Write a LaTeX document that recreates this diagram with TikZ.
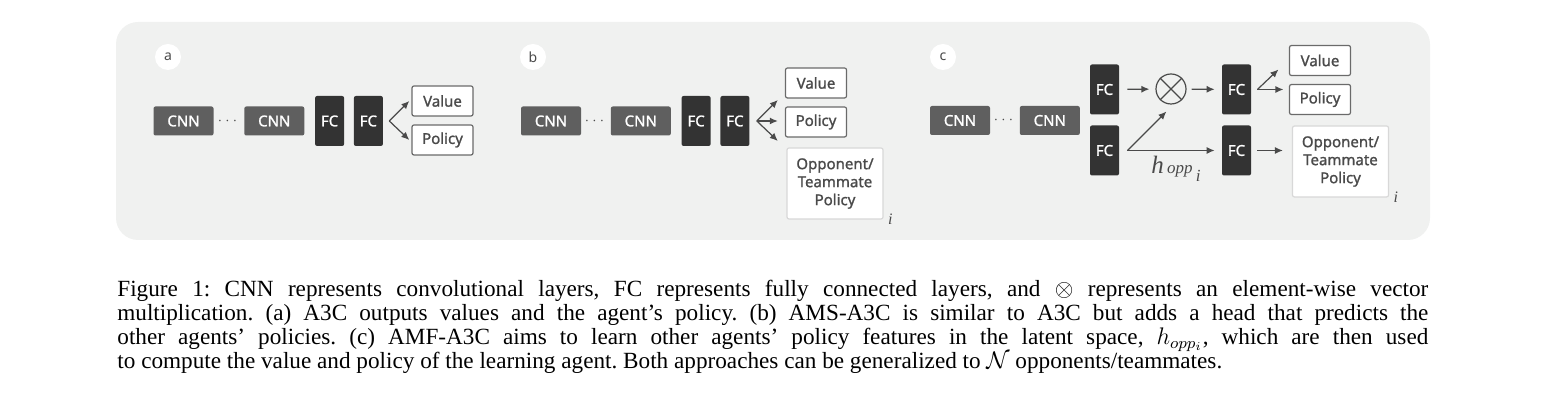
\documentclass[tikz,border=0pt]{standalone}
\usepackage{amsmath,amssymb}
\usepackage{fontspec}
\setmainfont{Liberation Serif}
\newfontfamily\diagfont{Noto Sans}
\newfontfamily\diagfontbold{Noto Sans}[FakeBold=1.3]
\usepackage{tikz}
\usetikzlibrary{arrows.meta, calc, positioning}

\definecolor{panelgray}{HTML}{F0F1F0}
\definecolor{cnngray}{HTML}{5F5F5F}
\definecolor{fcgray}{HTML}{333333}
\definecolor{linegray}{HTML}{4A4A4A}
\definecolor{boxgray}{HTML}{6A6A6A}
\definecolor{oppgray}{HTML}{D8D8D8}

\begin{document}
\frenchspacing
\begin{tikzpicture}[x=0.5pt, y=-0.5pt, >={Latex[length=4pt,width=3.5pt]},
    cnn/.style={fill=cnngray, text=white, minimum width=30pt, minimum height=14.5pt,
        inner sep=0pt, rounded corners=1pt, font=\diagfontbold\fontsize{7.5}{9}\selectfont},
    fc/.style={fill=fcgray, text=white, minimum width=14.5pt, minimum height=25pt,
        inner sep=0pt, rounded corners=1pt, font=\diagfontbold\fontsize{7.5}{9}\selectfont},
    outbox/.style={draw=boxgray, fill=white, line width=0.6pt, minimum width=30.5pt,
        minimum height=15pt, inner sep=0pt, rounded corners=1pt, text=linegray,
        font=\diagfontbold\fontsize{7.5}{9}\selectfont},
    oppbox/.style={draw=oppgray, fill=white, line width=0.6pt, minimum width=48pt,
        minimum height=35.5pt, inner sep=0pt, rounded corners=1pt, align=center, text=linegray,
        font=\diagfontbold\fontsize{7.5}{9}\selectfont},
    tag/.style={circle, fill=white, minimum size=13pt, inner sep=0pt, text=linegray,
        font=\diagfont\fontsize{7}{7}\selectfont},
    dotsep/.style={text=linegray, font=\fontsize{7}{7}\selectfont},
    idx/.style={inner sep=0pt, text=linegray, font=\itshape\fontsize{8}{8}\selectfont},
    link/.style={->, draw=linegray, line width=0.6pt},
    ]
    \useasboundingbox (0,0) rectangle (1563,415);

    % Grey panel behind the three networks
    \fill[panelgray, rounded corners=11pt] (116,22) rectangle (1430,240);

    % Panel a: A3C
    \node[tag] (a-tag) at (168,57) {a};
    \node[cnn] (a-cnn1) at (183.5,121) {CNN};
    \node[cnn] (a-cnn2) [right=15pt of a-cnn1] {CNN};
    \node[dotsep] (a-dots) at ($(a-cnn1.east)!0.5!(a-cnn2.west)$) {$\cdots$};
    \node[fc] (a-fc1) [right=5pt of a-cnn2] {FC};
    \node[fc] (a-fc2) [right=4.5pt of a-fc1] {FC};
    \node[outbox] (a-value) at (442.5,101) {Value};
    \node[outbox] (a-policy) at (442.5,140) {Policy};
    \coordinate (a-split) at ([xshift=3pt]a-fc2.east);
    \draw[link] (a-split) -- ++(20,-20);
    \draw[link] (a-split) -- ++(20,19);

    % Panel b: AMS-A3C
    \node[tag] (b-tag) at (533,57) {b};
    \node[cnn] (b-cnn1) at (551,121) {CNN};
    \node[cnn] (b-cnn2) [right=14.5pt of b-cnn1] {CNN};
    \node[dotsep] (b-dots) at ($(b-cnn1.east)!0.5!(b-cnn2.west)$) {$\cdots$};
    \node[fc] (b-fc1) [right=5pt of b-cnn2] {FC};
    \node[fc] (b-fc2) [right=4.5pt of b-fc1] {FC};
    \node[outbox] (b-value) at (816,83) {Value};
    \node[outbox] (b-policy) at (816,122) {Policy};
    \node[oppbox] (b-opp) at (835,183.5) {Opponent/\\Teammate\\Policy};
    \node[idx] (b-i) [right=2pt of b-opp.south east] {i};
    \coordinate (b-split) at ([xshift=3.5pt]b-fc2.east);
    \draw[link] (b-split) -- ++(21,-21);
    \draw[link] (b-split) -- ++(21,0);
    \draw[link] (b-split) -- ++(21,20);

    % Panel c: AMF-A3C
    \node[tag] (c-tag) at (943,57) {c};
    \node[cnn] (c-cnn1) at (960,120.5) {CNN};
    \node[cnn] (c-cnn2) [right=14.5pt of c-cnn1] {CNN};
    \node[dotsep] (c-dots) at ($(c-cnn1.east)!0.5!(c-cnn2.west)$) {$\cdots$};
    \node[fc] (c-fc1) at (1104.5,89.5) {FC};
    \node[fc] (c-fc2) at (1104.5,150.5) {FC};
    \node[circle, draw=linegray, line width=0.6pt, minimum size=15pt, inner sep=0pt] (c-mult) at (1171,89) {};
    \draw[linegray, line width=0.6pt] (c-mult.north west) -- (c-mult.south east)
        (c-mult.north east) -- (c-mult.south west);
    \node[fc] (c-fc3) at (1236.5,89.5) {FC};
    \node[fc] (c-fc4) at (1236.5,150.5) {FC};
    \node[outbox] (c-value) at (1320,60.5) {Value};
    \node[outbox] (c-policy) at (1320,99.5) {Policy};
    \node[oppbox] (c-opp) at (1340.5,161.5) {Opponent/\\Teammate\\Policy};
    \node[idx] (c-i) [right=2pt of c-opp.south east] {i};

    \draw[link, shorten <=4pt, shorten >=3pt] (c-fc1) -- (c-mult);
    \draw[link, shorten <=2.5pt, shorten >=3.5pt] (c-mult) -- (c-fc3);
    \coordinate (c-fork) at ([xshift=4pt]c-fc2.east);
    \draw[link] (c-fork) -- ++(39,-39);
    \draw[link, shorten >=3.5pt] (c-fork) -- (c-fc4);
    \node[inner sep=0pt, text=linegray] (c-hopp) at (1176,169)
        {{\fontsize{12.5}{12}\selectfont\itshape h}\,{\fontsize{8.5}{8}\selectfont\itshape opp}\,\raisebox{-4pt}{\fontsize{8.5}{8}\selectfont\itshape i}};
    \coordinate (c-split) at ([xshift=3pt]c-fc3.east);
    \draw[link] (c-split) -- ++(21,-20);
    \draw[link] (c-split) -- ++(26,0);
    \draw[link, shorten <=3pt, shorten >=4.5pt] (c-fc4.east) -- (c-fc4.east -| c-opp.west);

    % Caption
    \node[anchor=north west, inner sep=0pt, text width=655.5pt, align=justify,
        font=\fontsize{11.6}{12}\selectfont] (caption) at (117,280)
        {Figure 1: CNN represents convolutional layers, FC represents fully connected layers, and $\otimes$ represents an element-wise vector\linebreak
        multiplication. (a) A3C outputs values and the agent's policy. (b) AMS-A3C is similar to A3C but adds a head that predicts the\linebreak
        other agents' policies. (c) AMF-A3C aims to learn other agents' policy features in the latent space, $h_{opp_i}$, which are then used\linebreak
        to compute the value and policy of the learning agent. Both approaches can be generalized to $\mathcal{N}$ opponents/teammates.};
\end{tikzpicture}
\end{document}
